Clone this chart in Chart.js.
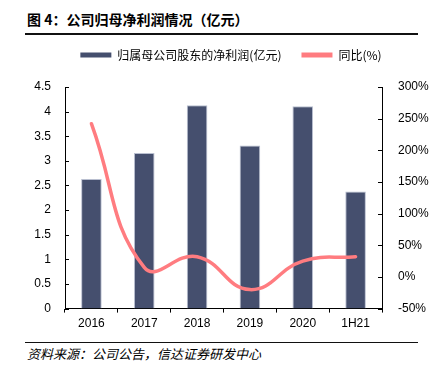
<!DOCTYPE html>
<html>
<head>
<meta charset="utf-8">
<script src="https://cdn.jsdelivr.net/npm/chart.js@4"></script>
<style>
  body { margin: 0; background: #fff; }
  #wrap { position: relative; width: 430px; height: 371px; overflow: hidden; }
  #title { position: absolute; left: 27px; top: 9px; font: bold 14px "Noto Sans CJK SC", sans-serif; color: #000; }
  #rule1 { position: absolute; left: 25px; top: 33px; width: 393px; height: 2px; background: #111; }
  #rule2 { position: absolute; left: 25px; top: 342px; width: 393px; height: 1px; background: #111; }
  #source { position: absolute; left: 27px; top: 344px; font: italic 13px "Noto Sans CJK SC", sans-serif; color: #000; }
  #chartBox { position: absolute; left: 0; top: 20px; width: 430px; height: 319px; }
</style>
</head>
<body>
<div id="wrap">
  <div id="title">图 4：公司归母净利润情况（亿元）</div>
  <div id="rule1"></div>
  <div id="chartBox"><canvas id="chart"></canvas></div>
  <div id="rule2"></div>
  <div id="source">资料来源：公司公告，信达证券研发中心</div>
</div>
<script>
const categories = ['2016', '2017', '2018', '2019', '2020', '1H21'];
const netProfit = [2.63, 3.16, 4.13, 3.31, 4.11, 2.38];   // 亿元
const yoyGrowth = [242, 15, 32, -20, 25, 32];             // %
const leftTicks = [0, 4.5, 0.5];     // min, max, step
const rightTicks = [-50, 300, 50];

// inward tick marks on both value axes
const innerTicks = {
    id: 'innerTicks',
    afterDraw(chart) {
        const ctx = chart.ctx;
        ctx.save();
        ctx.strokeStyle = '#000';
        ctx.lineWidth = 1;
        ['y', 'y1'].forEach(id => {
            const s = chart.scales[id];
            s.ticks.forEach(t => {
                const py = Math.round(s.getPixelForValue(t.value)) + 0.5;
                ctx.beginPath();
                if (id === 'y') { ctx.moveTo(s.right, py); ctx.lineTo(s.right + 4, py); }
                else { ctx.moveTo(s.left - 4, py); ctx.lineTo(s.left, py); }
                ctx.stroke();
            });
        });
        ctx.restore();
    }
};

// extra room under the legend, and nudge it right a bit
const legendSpace = {
    id: 'legendSpace',
    beforeInit(chart) {
        const fit = chart.legend.fit;
        chart.legend.fit = function () {
            fit.bind(chart.legend)();
            this.height += 16;
        };
    },
    afterLayout(chart) {
        chart.legend.left += 16;
        chart.legend.right += 16;
    }
};

new Chart(document.getElementById('chart'), {
    data: {
        labels: categories,
        datasets: [{
            type: 'line',
            label: '同比(%)',
            data: yoyGrowth,
            yAxisID: 'y1',
            borderColor: '#ff7c80',
            backgroundColor: '#ff7c80',
            borderWidth: 3.5,
            borderCapStyle: 'round',
            tension: 0.45,
            pointRadius: 0,
            order: 0
        }, {
            type: 'bar',
            label: '归属母公司股东的净利润(亿元)',
            data: netProfit,
            yAxisID: 'y',
            backgroundColor: '#454f6e',
            borderColor: '#b9bfd0',
            borderWidth: 1,
            barPercentage: 0.39,
            categoryPercentage: 1,
            order: 1
        }]
    },
    options: {
        responsive: true,
        maintainAspectRatio: false,
        animation: false,
        layout: { padding: { top: 9, bottom: 4 } },
        plugins: {
            legend: {
                reverse: true,
                labels: {
                    boxWidth: 31,
                    boxHeight: 5,
                    padding: 20,
                    color: '#000',
                    font: { size: 12, family: '"Noto Sans CJK SC", sans-serif' },
                    generateLabels(chart) {
                        const items = Chart.defaults.plugins.legend.labels.generateLabels(chart);
                        items.forEach(it => { it.lineWidth = 0; });
                        return items;
                    }
                }
            },
            tooltip: { enabled: false }
        },
        scales: {
            x: {
                grid: { offset: true, drawOnChartArea: false, tickLength: 4, color: '#000' },
                border: { color: '#000' },
                ticks: { color: '#000', font: { size: 12, family: 'Liberation Sans' }, padding: 4 }
            },
            y: {
                position: 'left',
                min: leftTicks[0], max: leftTicks[1],
                ticks: { stepSize: leftTicks[2], color: '#000', font: { size: 12, family: 'Liberation Sans' }, padding: 6,
                    callback: v => String(v) },
                grid: { display: false },
                border: { color: '#000' },
                afterFit(s) { s.width = 65; }
            },
            y1: {
                position: 'right',
                min: rightTicks[0], max: rightTicks[1],
                ticks: { stepSize: rightTicks[2], color: '#000', font: { size: 12, family: 'Liberation Sans' }, padding: 8,
                    callback: v => v + '%' },
                grid: { display: false },
                border: { color: '#000' },
                afterFit(s) { s.width = 48; }
            }
        }
    },
    plugins: [innerTicks, legendSpace]
});
</script>
</body>
</html>
